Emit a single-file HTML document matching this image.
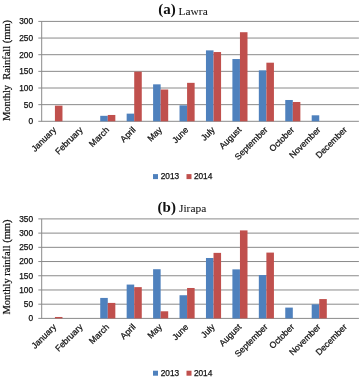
<!DOCTYPE html>
<html><head><meta charset="utf-8"><style>
html,body{margin:0;padding:0;background:#fff;}
body{width:360px;height:379px;overflow:hidden;}
svg{display:block;will-change:transform;}
line{stroke:#8a8a8a;stroke-width:1;}
text{stroke-width:0.25px;}
.xl{font-family:"Liberation Sans",sans-serif;font-size:8.7px;fill:#111;stroke:#111;}
.ax{font-family:"Liberation Sans",sans-serif;font-size:8.3px;fill:#111;stroke:#111;}
.tb{font-family:"Liberation Serif",serif;font-size:15px;font-weight:bold;fill:#111;}
.tr{font-family:"Liberation Serif",serif;font-size:11.4px;fill:#111;stroke:#111;stroke-width:0.05px;}
.yt{font-family:"Liberation Serif",serif;font-size:10.5px;fill:#111;stroke:#111;stroke-width:0.2px;}
</style></head><body>
<svg width="360" height="379" viewBox="0 0 360 379">
<rect width="360" height="379" fill="#fff"/>
<line x1="38.3" y1="121.3" x2="358.9" y2="121.3"/>
<text x="33" y="124.2" class="ax" text-anchor="end">0</text>
<line x1="38.3" y1="104.65" x2="358.9" y2="104.65"/>
<text x="33" y="107.55" class="ax" text-anchor="end">50</text>
<line x1="38.3" y1="88" x2="358.9" y2="88"/>
<text x="33" y="90.9" class="ax" text-anchor="end">100</text>
<line x1="38.3" y1="71.35" x2="358.9" y2="71.35"/>
<text x="33" y="74.25" class="ax" text-anchor="end">150</text>
<line x1="38.3" y1="54.7" x2="358.9" y2="54.7"/>
<text x="33" y="57.6" class="ax" text-anchor="end">200</text>
<line x1="38.3" y1="38.05" x2="358.9" y2="38.05"/>
<text x="33" y="40.95" class="ax" text-anchor="end">250</text>
<line x1="38.3" y1="21.4" x2="358.9" y2="21.4"/>
<text x="33" y="24.3" class="ax" text-anchor="end">300</text>
<line x1="41.7" y1="21.4" x2="41.7" y2="121.3"/>
<rect x="54.92" y="105.65" width="7.55" height="15.65" fill="#C0504D"/>
<rect x="100.23" y="115.81" width="7.55" height="5.49" fill="#4F81BD"/>
<rect x="107.78" y="114.97" width="7.55" height="6.33" fill="#C0504D"/>
<rect x="126.66" y="113.64" width="7.55" height="7.66" fill="#4F81BD"/>
<rect x="134.22" y="71.68" width="7.55" height="49.62" fill="#C0504D"/>
<rect x="153.1" y="84.34" width="7.55" height="36.96" fill="#4F81BD"/>
<rect x="160.65" y="89.5" width="7.55" height="31.8" fill="#C0504D"/>
<rect x="179.53" y="105.32" width="7.55" height="15.98" fill="#4F81BD"/>
<rect x="187.08" y="82.84" width="7.55" height="38.46" fill="#C0504D"/>
<rect x="205.96" y="50.37" width="7.55" height="70.93" fill="#4F81BD"/>
<rect x="213.52" y="52.04" width="7.55" height="69.26" fill="#C0504D"/>
<rect x="232.4" y="59.03" width="7.55" height="62.27" fill="#4F81BD"/>
<rect x="239.95" y="32.22" width="7.55" height="89.08" fill="#C0504D"/>
<rect x="258.83" y="70.35" width="7.55" height="50.95" fill="#4F81BD"/>
<rect x="266.38" y="62.69" width="7.55" height="58.61" fill="#C0504D"/>
<rect x="285.26" y="99.99" width="7.55" height="21.31" fill="#4F81BD"/>
<rect x="292.82" y="101.99" width="7.55" height="19.31" fill="#C0504D"/>
<rect x="311.7" y="115.31" width="7.55" height="5.99" fill="#4F81BD"/>
<text class="xl" text-anchor="end" transform="translate(56.82,130.4) rotate(-45)">January</text>
<text class="xl" text-anchor="end" transform="translate(83.25,130.4) rotate(-45)">February</text>
<text class="xl" text-anchor="end" transform="translate(109.68,130.4) rotate(-45)">March</text>
<text class="xl" text-anchor="end" transform="translate(136.12,130.4) rotate(-45)">April</text>
<text class="xl" text-anchor="end" transform="translate(162.55,130.4) rotate(-45)">May</text>
<text class="xl" text-anchor="end" transform="translate(188.98,130.4) rotate(-45)">June</text>
<text class="xl" text-anchor="end" transform="translate(215.42,130.4) rotate(-45)">July</text>
<text class="xl" text-anchor="end" transform="translate(241.85,130.4) rotate(-45)">August</text>
<text class="xl" text-anchor="end" transform="translate(268.28,130.4) rotate(-45)">September</text>
<text class="xl" text-anchor="end" transform="translate(294.72,130.4) rotate(-45)">October</text>
<text class="xl" text-anchor="end" transform="translate(321.15,130.4) rotate(-45)">November</text>
<text class="xl" text-anchor="end" transform="translate(347.58,130.4) rotate(-45)">December</text>
<text x="158.3" y="14" class="tb">(a)</text>
<text x="178.6" y="14.6" class="tr">Lawra</text>
<text class="yt" text-anchor="middle" transform="translate(9.9,70.5) rotate(-90)">Monthly&#160; Rainfall (mm)</text>
<rect x="153" y="174.1" width="5" height="5" fill="#4F81BD"/>
<text x="160.7" y="179.1" class="ax">2013</text>
<rect x="186.5" y="174.1" width="5" height="5" fill="#C0504D"/>
<text x="193.9" y="179.1" class="ax">2014</text>
<line x1="38.3" y1="318.4" x2="358.9" y2="318.4"/>
<text x="33" y="321.3" class="ax" text-anchor="end">0</text>
<line x1="38.3" y1="304.19" x2="358.9" y2="304.19"/>
<text x="33" y="307.09" class="ax" text-anchor="end">50</text>
<line x1="38.3" y1="289.97" x2="358.9" y2="289.97"/>
<text x="33" y="292.87" class="ax" text-anchor="end">100</text>
<line x1="38.3" y1="275.76" x2="358.9" y2="275.76"/>
<text x="33" y="278.66" class="ax" text-anchor="end">150</text>
<line x1="38.3" y1="261.54" x2="358.9" y2="261.54"/>
<text x="33" y="264.44" class="ax" text-anchor="end">200</text>
<line x1="38.3" y1="247.33" x2="358.9" y2="247.33"/>
<text x="33" y="250.23" class="ax" text-anchor="end">250</text>
<line x1="38.3" y1="233.11" x2="358.9" y2="233.11"/>
<text x="33" y="236.01" class="ax" text-anchor="end">300</text>
<line x1="38.3" y1="218.9" x2="358.9" y2="218.9"/>
<text x="33" y="221.8" class="ax" text-anchor="end">350</text>
<line x1="41.7" y1="218.9" x2="41.7" y2="318.4"/>
<rect x="54.92" y="316.98" width="7.55" height="1.42" fill="#C0504D"/>
<rect x="100.23" y="297.93" width="7.55" height="20.47" fill="#4F81BD"/>
<rect x="107.78" y="302.91" width="7.55" height="15.49" fill="#C0504D"/>
<rect x="126.66" y="284.57" width="7.55" height="33.83" fill="#4F81BD"/>
<rect x="134.22" y="287.13" width="7.55" height="31.27" fill="#C0504D"/>
<rect x="153.1" y="269.22" width="7.55" height="49.18" fill="#4F81BD"/>
<rect x="160.65" y="311.29" width="7.55" height="7.11" fill="#C0504D"/>
<rect x="179.53" y="295.23" width="7.55" height="23.17" fill="#4F81BD"/>
<rect x="187.08" y="287.98" width="7.55" height="30.42" fill="#C0504D"/>
<rect x="205.96" y="257.99" width="7.55" height="60.41" fill="#4F81BD"/>
<rect x="213.52" y="252.87" width="7.55" height="65.53" fill="#C0504D"/>
<rect x="232.4" y="269.36" width="7.55" height="49.04" fill="#4F81BD"/>
<rect x="239.95" y="230.41" width="7.55" height="87.99" fill="#C0504D"/>
<rect x="258.83" y="275.05" width="7.55" height="43.35" fill="#4F81BD"/>
<rect x="266.38" y="252.59" width="7.55" height="65.81" fill="#C0504D"/>
<rect x="285.26" y="307.6" width="7.55" height="10.8" fill="#4F81BD"/>
<rect x="311.7" y="304.33" width="7.55" height="14.07" fill="#4F81BD"/>
<rect x="319.25" y="299.07" width="7.55" height="19.33" fill="#C0504D"/>
<text class="xl" text-anchor="end" transform="translate(56.82,327.5) rotate(-45)">January</text>
<text class="xl" text-anchor="end" transform="translate(83.25,327.5) rotate(-45)">February</text>
<text class="xl" text-anchor="end" transform="translate(109.68,327.5) rotate(-45)">March</text>
<text class="xl" text-anchor="end" transform="translate(136.12,327.5) rotate(-45)">April</text>
<text class="xl" text-anchor="end" transform="translate(162.55,327.5) rotate(-45)">May</text>
<text class="xl" text-anchor="end" transform="translate(188.98,327.5) rotate(-45)">June</text>
<text class="xl" text-anchor="end" transform="translate(215.42,327.5) rotate(-45)">July</text>
<text class="xl" text-anchor="end" transform="translate(241.85,327.5) rotate(-45)">August</text>
<text class="xl" text-anchor="end" transform="translate(268.28,327.5) rotate(-45)">September</text>
<text class="xl" text-anchor="end" transform="translate(294.72,327.5) rotate(-45)">October</text>
<text class="xl" text-anchor="end" transform="translate(321.15,327.5) rotate(-45)">November</text>
<text class="xl" text-anchor="end" transform="translate(347.58,327.5) rotate(-45)">December</text>
<text x="157.6" y="211.8" class="tb">(b)</text>
<text x="179" y="212.4" class="tr">Jirapa</text>
<text class="yt" text-anchor="middle" transform="translate(9.9,267) rotate(-90)">Monthly rainfall (mm)</text>
<rect x="153" y="370.7" width="5" height="5" fill="#4F81BD"/>
<text x="160.7" y="375.7" class="ax">2013</text>
<rect x="186.5" y="370.7" width="5" height="5" fill="#C0504D"/>
<text x="193.9" y="375.7" class="ax">2014</text>
</svg>
</body></html>
